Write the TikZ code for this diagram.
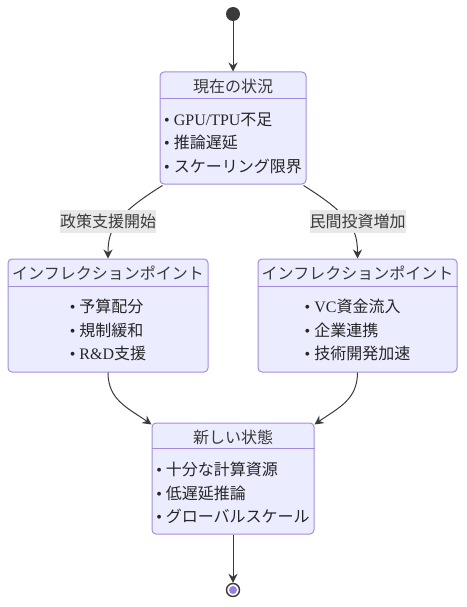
\documentclass[tikz,border=0pt]{standalone}
\usepackage{fontspec}
\setmainfont{Liberation Serif}
\newfontfamily\jpfont{Noto Sans CJK JP}
\usepackage{tikz}
\usetikzlibrary{positioning}
\usetikzlibrary{arrows.meta}
\definecolor{boxfill}{HTML}{ECECFF}
\definecolor{boxline}{HTML}{A48BE0}
\definecolor{edgecol}{HTML}{3A3A3A}
\definecolor{labelfill}{HTML}{E8E8E8}
\definecolor{endfill}{HTML}{9C7FE0}
\newcommand{\jtext}[1]{{\jpfont #1}}
\tikzset{
    statebox/.style={draw=boxline, fill=boxfill, rounded corners=4pt, line width=1pt, inner sep=0pt},
    divider/.style={draw=boxline, line width=1pt},
    statetitle/.style={font=\jpfont\fontsize{16}{19}\selectfont, text=edgecol, inner sep=0pt},
    stateitems/.style={align=left, font=\fontsize{16}{23.5}\selectfont, text=black!85, inner sep=0pt},
    trans/.style={draw=edgecol, line width=1pt, -{Stealth[length=9pt,width=9pt,inset=3pt]}},
    edgelabel/.style={fill=labelfill, font=\jpfont\fontsize{16}{19}\selectfont, text=edgecol, inner xsep=0pt, minimum width=96pt, minimum height=23pt},
    startdot/.style={circle, fill=edgecol, minimum size=14pt, inner sep=0pt},
    enddot/.style={circle, draw=edgecol, line width=1.4pt, fill=white, minimum size=13pt, inner sep=0pt}
}

\begin{document}
\begin{tikzpicture}[x=1pt, y=-1pt]
    \useasboundingbox (0, 0) rectangle (466, 607);

    % start / end
    \node[startdot] (start) at (233, 14) {};
    \node[enddot] (end) at (233, 590) {};
    \fill[endfill] (end.center) circle (4pt);

    % current state
    \node[statebox, minimum width=146pt, minimum height=112pt] (now) at (233, 128) {};
    \draw[divider] ([yshift=-27pt]now.north west) -- ([yshift=-27pt]now.north east);
    \node[statetitle] (now title) at (233, 86) {現在の状況};
    \node[stateitems] (now items) at (233, 143) {• GPU/TPU\jtext{不足}\\ • \jtext{推論遅延}\\ • \jtext{スケーリング限界}};

    % inflection points
    \node[statebox, minimum width=200pt, minimum height=113pt] (infl1) at (108, 315.5) {};
    \draw[divider] ([yshift=-28pt]infl1.north west) -- ([yshift=-28pt]infl1.north east);
    \node[statetitle] (infl1 title) at (108, 273) {インフレクションポイント};
    \node[stateitems] (infl1 items) at (108, 330) {• \jtext{予算配分}\\ • \jtext{規制緩和}\\ • R\&D\jtext{支援}};

    \node[statebox, minimum width=199pt, minimum height=113pt] (infl2) at (357.5, 315.5) {};
    \draw[divider] ([yshift=-28pt]infl2.north west) -- ([yshift=-28pt]infl2.north east);
    \node[statetitle] (infl2 title) at (357.5, 273) {インフレクションポイント};
    \node[stateitems] (infl2 items) at (357.5, 330) {• VC\jtext{資金流入}\\ • \jtext{企業連携}\\ • \jtext{技術開発加速}};

    % new state
    \node[statebox, minimum width=162pt, minimum height=111pt] (new) at (233, 478.5) {};
    \draw[divider] ([yshift=-26pt]new.north west) -- ([yshift=-26pt]new.north east);
    \node[statetitle] (new title) at (233, 437) {新しい状態};
    \node[stateitems] (new items) at (233, 493) {• \jtext{十分な計算資源}\\ • \jtext{低遅延推論}\\ • \jtext{グローバルスケール}};

    % transitions
    \draw[trans] (start) -- (now);
    \draw[trans] ([xshift=3pt, yshift=-1pt]now.south west) .. controls (115, 215) and (108, 230) .. (infl1.north);
    \draw[trans] ([xshift=-3pt, yshift=-1pt]now.south east) .. controls (351, 215) and (357.5, 230) .. (infl2.north);
    \draw[trans] (infl1.south) .. controls (108, 400) and (128, 408) .. ([yshift=-2pt]new.north west);
    \draw[trans] (infl2.south) .. controls (357.5, 400) and (338, 408) .. ([yshift=-2pt]new.north east);
    \draw[trans] (new) -- (end);

    % labels
    \node[edgelabel] (lab1) at (108, 221.5) {政策支援開始};
    \node[edgelabel] (lab2) at (357.5, 221.5) {民間投資増加};

\end{tikzpicture}
\end{document}
